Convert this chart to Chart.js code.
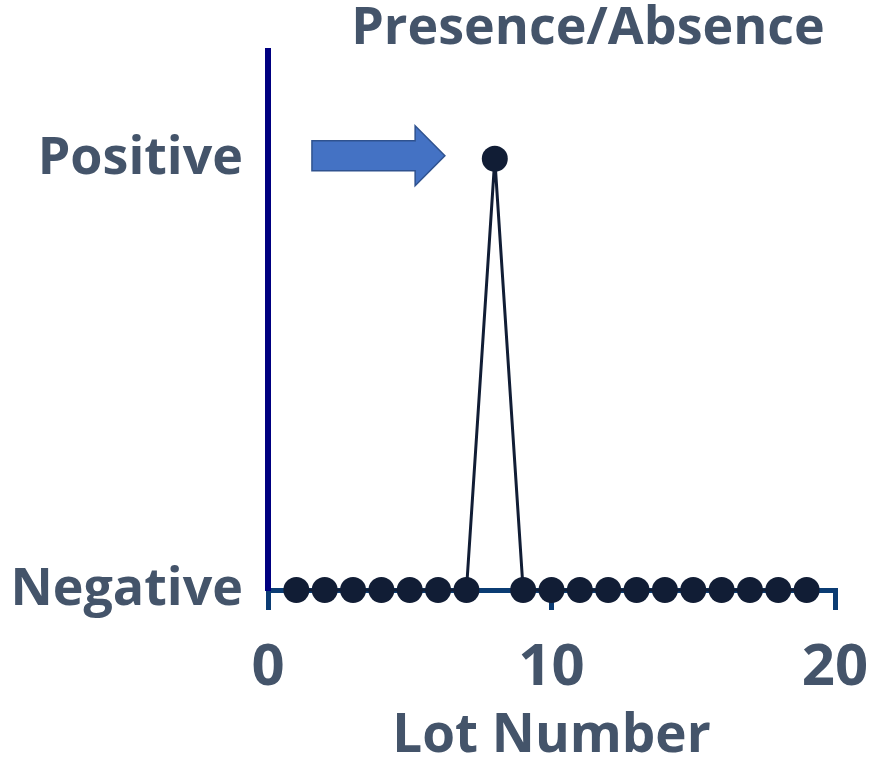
<!DOCTYPE html>
<html>
<head>
<meta charset="utf-8">
<script src="https://cdn.jsdelivr.net/npm/chart.js@4.4.1/dist/chart.umd.min.js"></script>
<style>
html,body{margin:0;padding:0;background:#fff;}
#wrap{width:870px;height:764px;}
</style>
</head>
<body>
<div id="wrap"><canvas id="c" width="870" height="764"></canvas></div>
<script>
// ---- data ----
const lotNumbers = [1,2,3,4,5,6,7,8,9,10,11,12,13,14,15,16,17,18,19];
const presence   = [0,0,0,0,0,0,0,1,0,0,0,0,0,0,0,0,0,0,0];
const yTickValues = [0, 1];
const yTickLabels = ['Negative', 'Positive'];
const xTickValues = [0, 10, 20];
const chartTitle = 'Presence/Absence';
const xAxisTitle = 'Lot Number';
// arrow annotation (data coordinates)
const arrowFromX = 1.55, arrowToX = 6.24, arrowHeadX = 5.19, arrowY = 1.0;

const TEXT = '#44546A';
const FONT = '"Open Sans", "DejaVu Sans", sans-serif';

const titlePlugin = {
  id: 'customTitle',
  afterDraw(chart) {
    const ctx = chart.ctx;
    ctx.save();
    ctx.font = 'bold 52px ' + FONT;
    ctx.fillStyle = TEXT;
    ctx.textAlign = 'center';
    ctx.textBaseline = 'alphabetic';
    ctx.fillText(chartTitle, 588, 44);
    ctx.restore();
  }
};

const arrowPlugin = {
  id: 'arrow',
  afterDatasetsDraw(chart) {
    const xs = chart.scales.x, ys = chart.scales.y;
    const x0 = xs.getPixelForValue(arrowFromX);
    const x1 = xs.getPixelForValue(arrowToX);
    const xh = xs.getPixelForValue(arrowHeadX);
    const yc = ys.getPixelForValue(arrowY) - 3;
    const bh = 15, hh = 30;
    const ctx = chart.ctx;
    ctx.save();
    ctx.beginPath();
    ctx.moveTo(x0, yc - bh);
    ctx.lineTo(xh, yc - bh);
    ctx.lineTo(xh, yc - hh);
    ctx.lineTo(x1, yc);
    ctx.lineTo(xh, yc + hh);
    ctx.lineTo(xh, yc + bh);
    ctx.lineTo(x0, yc + bh);
    ctx.closePath();
    ctx.fillStyle = '#4472C4';
    ctx.fill();
    ctx.lineWidth = 1.5;
    ctx.strokeStyle = '#2F528F';
    ctx.stroke();
    ctx.restore();
  }
};

new Chart(document.getElementById('c'), {
  type: 'line',
  data: {
    datasets: [{
      data: lotNumbers.map((x, i) => ({x: x, y: presence[i]})),
      borderColor: '#111D35',
      backgroundColor: '#111D35',
      borderWidth: 3,
      pointRadius: 13,
      pointBorderWidth: 0,
      pointBackgroundColor: '#111D35',
      tension: 0,
      clip: false
    }]
  },
  options: {
    responsive: false,
    animation: false,
    events: [],
    layout: { padding: { top: 51, right: 35, left: 0, bottom: 0 } },
    plugins: { legend: { display: false }, tooltip: { enabled: false }, title: { display: false } },
    scales: {
      x: {
        type: 'linear',
        min: 0, max: 20,
        afterBuildTicks: s => { s.ticks = xTickValues.map(v => ({value: v})); },
        afterFit: s => { s.paddingLeft = 0; s.paddingRight = 0; s.height = 174; },
        grid: { display: true, drawOnChartArea: false, drawTicks: true, tickLength: 20, color: '#0B3C73', lineWidth: 5 },
        border: { display: true, color: '#0B3C73', width: 5 },
        ticks: { color: TEXT, font: { family: FONT, size: 58, weight: 'bold' }, padding: 24, maxRotation: 0 },
        title: { display: true, text: xAxisTitle, color: TEXT, font: { family: FONT, size: 53, weight: 'bold' }, padding: { top: 0, bottom: -5 } }
      },
      y: {
        type: 'linear',
        min: 0, max: 1.25,
        afterBuildTicks: s => { s.ticks = yTickValues.map(v => ({value: v})); },
        afterFit: s => { s.width = 268; s.paddingTop = 0; s.paddingBottom = 0; },
        grid: { display: false, drawTicks: false },
        border: { display: true, color: '#000080', width: 6 },
        ticks: {
          color: TEXT, font: { family: FONT, size: 52, weight: 'bold' }, padding: 25,
          callback: (v) => { const i = yTickValues.indexOf(v); return i >= 0 ? yTickLabels[i] : ''; }
        }
      }
    }
  },
  plugins: [titlePlugin, arrowPlugin]
});
</script>
</body>
</html>
